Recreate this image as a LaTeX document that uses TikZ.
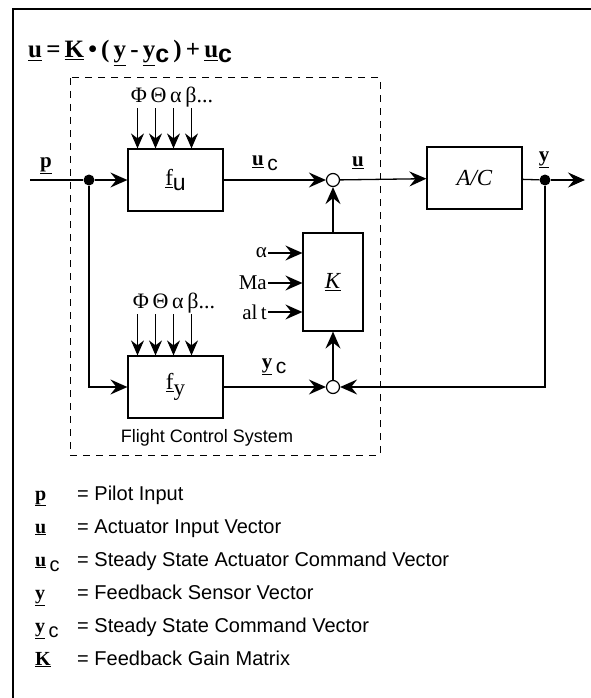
\documentclass[tikz,border=0pt]{standalone}
\usepackage{fontspec}
\setmainfont{Liberation Serif}
\setsansfont{Liberation Sans}
\usetikzlibrary{arrows.meta}

\newcommand{\uvec}[1]{{\rmfamily\bfseries\underline{#1}}}
\newcommand{\lowc}{\,\raisebox{-0.55ex}{\sffamily c}}

\begin{document}
\begin{tikzpicture}[x=1pt,y=-1pt]
    \tikzstyle{block}=[draw,line width=1.2pt,minimum width=95pt,minimum height=62pt,inner sep=0pt,font=\fontsize{23}{23}\selectfont]
    \tikzstyle{sum}=[draw,circle,line width=1.2pt,fill=white,minimum size=13pt,inner sep=0pt]
    \tikzstyle{junction}=[circle,fill=black,minimum size=11pt,inner sep=0pt]
    \tikzstyle{wire}=[line width=1.3pt]
    \tikzstyle{flow}=[wire,-{Stealth[length=17pt,width=15pt,inset=6pt]}]
    \tikzstyle{disturb}=[line width=1pt,-{Stealth[length=15pt,width=13pt,inset=5pt]}]
    \tikzstyle{sig}=[font=\fontsize{21}{21}\selectfont,inner sep=1pt]
    \tikzstyle{legend}=[anchor=base west,inner sep=0pt,font=\sffamily\fontsize{20}{20}\selectfont]

    \useasboundingbox (0,0) rectangle (591,698);

    % frame and control law
    \draw[line width=1.2pt] (13,698) -- (13,9) -- (591,9);
    \node[anchor=base west,inner sep=0pt,font=\bfseries\fontsize{25}{25}\selectfont] at (28,58) (law)
        {\uvec{u}\,=\,\uvec{K}\,•\,(\,\uvec{y}\,-\,\uvec{y}\raisebox{-0.4ex}{\sffamily c}\,)\,+\,\uvec{u}\raisebox{-0.4ex}{\sffamily c}};

    % flight control system
    \draw[line width=1pt,dash pattern=on 7pt off 6pt] (70,78) rectangle (380,455);
    \node[font=\sffamily\fontsize{18}{18}\selectfont] at (207,438) (fcs) {Flight Control System};

    \node[block] at (175.5,180) (fu) {\underline{f}\raisebox{-0.5ex}{\sffamily u}};
    \node[block] at (175.5,387) (fy) {\underline{f}\raisebox{-0.5ex}{y}};
    \node[block] at (474.5,178) (ac) {\textit{A/C}};
    \node[block,minimum width=60pt,minimum height=98pt] at (333,282) (gain) {\underline{\textit{K}}};
    \node[sum] at (333,180) (sumu) {};
    \node[sum] at (333,387) (sumy) {};
    \node[junction] at (89,180) (split) {};
    \node[junction] at (545,180) (tap) {};
    \coordinate (pin) at (30,180);
    \coordinate (yout) at (585,180);

    % disturbance inputs
    \node[sig,font=\fontsize{22}{22}\selectfont] at (172,97) (dfu) {Φ\,Θ\,α\,β...};
    \node[sig,font=\fontsize{22}{22}\selectfont] at (174,303) (dfy) {Φ\,Θ\,α\,β...};
    \foreach \dx in {-38,-20,-2,16} {
        \draw[disturb] ([xshift=\dx pt]fu.north |- dfu.south) -- ([xshift=\dx pt]fu.north);
        \draw[disturb] ([xshift=\dx pt]fy.north |- dfy.south) -- ([xshift=\dx pt]fy.north);
    }

    % scheduling inputs of the gain
    \node[sig,anchor=east] at (268,253) (ina) {α};
    \node[sig,anchor=east] at (268,283) (inma) {Ma};
    \node[sig,anchor=east] at (268,312) (inalt) {al\,t};
    \draw[flow] (ina.east) -- (ina -| gain.west);
    \draw[flow] (inma.east) -- (inma -| gain.west);
    \draw[flow] (inalt.east) -- (inalt -| gain.west);

    % signal flow
    \draw[wire] (pin) -- (split);
    \draw[flow] (split) -- (fu);
    \draw[flow] (split) |- (fy);
    \draw[flow] (fu) -- (sumu);
    \draw[flow] (sumu) -- (ac);
    \draw[wire] (ac) -- (tap);
    \draw[flow] (tap) -- (yout);
    \draw[flow] (tap) |- (sumy);
    \draw[flow] (fy) -- (sumy);
    \draw[flow] (sumy) -- (gain);
    \draw[flow] (gain) -- (sumu);

    % signal names
    \node[sig] at (46,166) (lp) {\uvec{p}};
    \node[sig] at (265,163) (luc) {\uvec{u}\lowc};
    \node[sig] at (358,163) (lu) {\uvec{u}};
    \node[sig] at (544,160) (ly) {\uvec{y}};
    \node[sig] at (274,367) (lyc) {\uvec{y}\lowc};

    % legend
    \node[legend] at (35,500) (symp) {\uvec{p}};
    \node[legend] at (77,500) (defp) {= Pilot Input};
    \node[legend] at (35,533) (symu) {\uvec{u}};
    \node[legend] at (77,533) (defu) {= Actuator Input Vector};
    \node[legend] at (35,566) (symuc) {\uvec{u}\lowc};
    \node[legend] at (77,566) (defuc) {= Steady State Actuator Command Vector};
    \node[legend] at (35,599) (symy) {\uvec{y}};
    \node[legend] at (77,599) (defy) {= Feedback Sensor Vector};
    \node[legend] at (35,632) (symyc) {\uvec{y}\lowc};
    \node[legend] at (77,632) (defyc) {= Steady State Command Vector};
    \node[legend] at (35,665) (symk) {\uvec{K}};
    \node[legend] at (77,665) (defk) {= Feedback Gain Matrix};
\end{tikzpicture}
\end{document}
